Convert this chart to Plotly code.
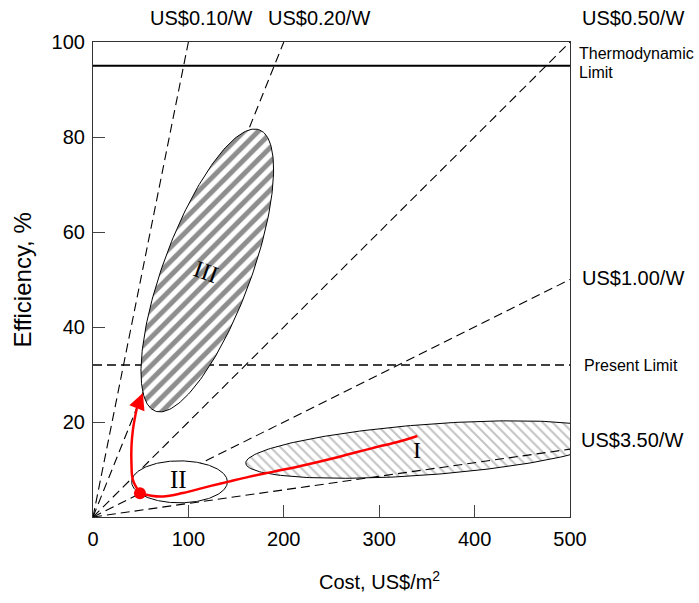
import numpy as np
import plotly.graph_objects as go

# ---------------- data ----------------
x_tick_vals = [0, 100, 200, 300, 400, 500]
y_tick_vals = [20, 40, 60, 80, 100]
price_levels = [0.10, 0.20, 0.50, 1.00, 3.50]          # US$/W
price_labels = ["US$0.10/W", "US$0.20/W", "US$0.50/W", "US$1.00/W", "US$3.50/W"]
thermo_limit = 95
present_limit = 32

# regions: center, major half-axis vector, minor half-axis vector (data units)
region_I_center, region_I_major, region_I_minor = (351.0, 14.2), (190.9, 2.9), (2.0, -5.31)
region_II_center, region_II_major, region_II_minor = (90.7, 7.4), (50.2, 0.0), (0.0, 4.42)
region_III_center, region_III_major, region_III_minor = (119.8, 51.9), (54.6, 29.6), (43.0, -3.22)

path_cost = [49.2, 70.1, 94.1, 122.4, 141.2, 164.2, 188.3, 216.5, 258.4, 292.9, 321.1, 340.0]
path_eff = [5.0, 4.3, 5.05, 6.5, 7.4, 8.5, 9.5, 10.7, 12.7, 14.5, 15.9, 17.05]
arrow_cost = [49.2, 41.8, 40.3, 40.3, 41.8, 44.5, 46.0]
arrow_eff = [5.0, 7.8, 11.4, 14.8, 18.3, 21.5, 22.9]
arrow_tip = (52.3, 26.1)
start_point = (49.2, 5.0)

XMAX, YMAX = 500, 100
SANS = "Liberation Sans, Arial, sans-serif"
SERIF = "Liberation Serif, Times New Roman, serif"


def ellipse(center, major, minor, n=240):
    t = np.linspace(0, 2 * np.pi, n)
    x = center[0] + major[0] * np.cos(t) + minor[0] * np.sin(t)
    y = center[1] + major[1] * np.cos(t) + minor[1] * np.sin(t)
    return x, y


fig = go.Figure()

# Region I (hatched, drawn first)
ex, ey = ellipse(region_I_center, region_I_major, region_I_minor)
fig.add_trace(go.Scatter(x=ex, y=ey, mode="lines", fill="toself",
                         line=dict(color="black", width=1),
                         fillcolor="white",
                         fillpattern=dict(shape="\\", size=7, solidity=0.3,
                                          fgcolor="#8a8a8a", bgcolor="white"),
                         hoverinfo="skip", showlegend=False))

# price lines
for p in price_levels:
    x_end = min(XMAX, 1000 * p)
    y_end = x_end / (10 * p)
    fig.add_trace(go.Scatter(x=[0, x_end], y=[0, y_end], mode="lines",
                             line=dict(color="black", width=1.1, dash="9px,5px"),
                             hoverinfo="skip", showlegend=False))

# present limit
fig.add_trace(go.Scatter(x=[0, XMAX], y=[present_limit, present_limit], mode="lines",
                         line=dict(color="black", width=1.5, dash="9px,5px"),
                         hoverinfo="skip", showlegend=False))

# Region II (opaque white)
ex, ey = ellipse(region_II_center, region_II_major, region_II_minor)
fig.add_trace(go.Scatter(x=ex, y=ey, mode="lines", fill="toself",
                         line=dict(color="black", width=1), fillcolor="white",
                         hoverinfo="skip", showlegend=False))

# Region III (hatched, opaque)
ex, ey = ellipse(region_III_center, region_III_major, region_III_minor)
fig.add_trace(go.Scatter(x=ex, y=ey, mode="lines", fill="toself",
                         line=dict(color="black", width=1),
                         fillcolor="white",
                         fillpattern=dict(shape="/", size=10, solidity=0.5,
                                          fgcolor="#1e1e1e", bgcolor="white"),
                         hoverinfo="skip", showlegend=False))

# thermodynamic limit
fig.add_trace(go.Scatter(x=[0, XMAX], y=[thermo_limit, thermo_limit], mode="lines",
                         line=dict(color="black", width=2),
                         hoverinfo="skip", showlegend=False))

# red paths
fig.add_trace(go.Scatter(x=path_cost, y=path_eff, mode="lines",
                         line=dict(color="#ff0000", width=2.5, shape="spline"),
                         hoverinfo="skip", showlegend=False))
fig.add_trace(go.Scatter(x=arrow_cost, y=arrow_eff, mode="lines",
                         line=dict(color="#ff0000", width=2.5, shape="spline"),
                         hoverinfo="skip", showlegend=False))
fig.add_trace(go.Scatter(x=[start_point[0]], y=[start_point[1]], mode="markers",
                         marker=dict(color="#ff0000", size=12),
                         hoverinfo="skip", showlegend=False))

ann = []
ann.append(dict(x=arrow_tip[0], y=arrow_tip[1], ax=arrow_cost[-1], ay=arrow_eff[-1],
                xref="x", yref="y", axref="x", ayref="y", text="", showarrow=True,
                arrowhead=2, arrowsize=1.3, arrowwidth=2.5, arrowcolor="#ff0000"))

# price labels
top_y = 1.05
label_font = dict(family=SANS, size=20, color="black")
small_font = dict(family=SANS, size=16, color="black")
ann.append(dict(x=113, y=top_y, xref="x", yref="paper", text=price_labels[0],
                showarrow=False, xanchor="center", yanchor="middle", font=label_font))
ann.append(dict(x=237, y=top_y, xref="x", yref="paper", text=price_labels[1],
                showarrow=False, xanchor="center", yanchor="middle", font=label_font))
ann.append(dict(x=1.021, y=top_y, xref="paper", yref="paper", text=price_labels[2],
                showarrow=False, xanchor="left", yanchor="middle", font=label_font))
ann.append(dict(x=1.021, y=50.3, xref="paper", yref="y", text=price_labels[3],
                showarrow=False, xanchor="left", yanchor="middle", font=label_font))
ann.append(dict(x=1.019, y=16.2, xref="paper", yref="y", text=price_labels[4],
                showarrow=False, xanchor="left", yanchor="middle", font=label_font))
ann.append(dict(x=1.0147, y=97.6, xref="paper", yref="y", text="Thermodynamic",
                showarrow=False, xanchor="left", yanchor="middle", font=small_font))
ann.append(dict(x=1.0147, y=93.6, xref="paper", yref="y", text="Limit",
                showarrow=False, xanchor="left", yanchor="middle", font=small_font))
ann.append(dict(x=1.0252, y=present_limit, xref="paper", yref="y", text="Present Limit",
                showarrow=False, xanchor="left", yanchor="middle", font=small_font))

# region labels
ann.append(dict(x=340, y=14.1, xref="x", yref="y", text="I", showarrow=False,
                font=dict(family=SERIF, size=24, color="black")))
ann.append(dict(x=90, y=7.8, xref="x", yref="y", text="II", showarrow=False,
                font=dict(family=SERIF, size=25, color="black")))
ann.append(dict(x=118.9, y=51.6, xref="x", yref="y", text="III", showarrow=False,
                textangle=20, font=dict(family=SERIF, size=24, color="black")))

# axis titles
ann.append(dict(x=300, y=-0.133, xref="x", yref="paper", text="Cost, US$/m<sup>2</sup>",
                showarrow=False, xanchor="center", yanchor="middle", font=label_font))
ann.append(dict(x=-0.147, y=0.5, xref="paper", yref="paper", text="Efficiency, %",
                showarrow=False, xanchor="center", yanchor="middle", textangle=-90,
                font=dict(family=SANS, size=24, color="black")))

fig.update_layout(
    width=699, height=603,
    margin=dict(l=93, r=129, t=42, b=86),
    paper_bgcolor="white", plot_bgcolor="white",
    annotations=ann,
    showlegend=False,
)
fig.update_xaxes(range=[0, XMAX], tickvals=x_tick_vals, ticks="inside", ticklen=12,
                 tickwidth=1.3, tickcolor="#444", showline=True, linecolor="#333",
                 linewidth=1.2, mirror=True, showgrid=False, zeroline=False,
                 tickfont=dict(family=SANS, size=20, color="black"),
                 ticklabelstandoff=4, fixedrange=True)
fig.update_yaxes(range=[0, YMAX], tickvals=y_tick_vals, ticks="inside", ticklen=12,
                 tickwidth=1.3, tickcolor="#444", showline=True, linecolor="#333",
                 linewidth=1.2, mirror=True, showgrid=False, zeroline=False,
                 tickfont=dict(family=SANS, size=20, color="black"),
                 ticklabelstandoff=3, fixedrange=True)

fig.write_html("out.html")
